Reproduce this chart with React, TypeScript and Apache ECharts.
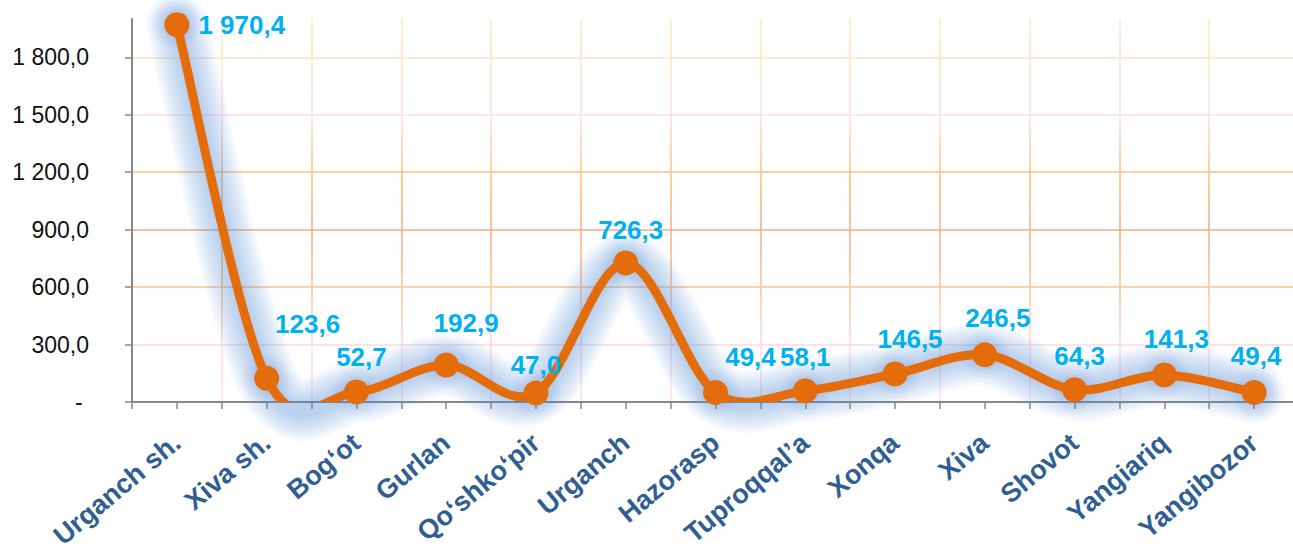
import React, { useEffect, useRef } from "react";
import * as echarts from "echarts";

const categories = [
  "Urganch sh.",
  "Xiva sh.",
  "Bog‘ot",
  "Gurlan",
  "Qo‘shko‘pir",
  "Urganch",
  "Hazorasp",
  "Tuproqqal’a",
  "Xonqa",
  "Xiva",
  "Shovot",
  "Yangiariq",
  "Yangibozor",
];

const values = [1970.4, 123.6, 52.7, 192.9, 47.0, 726.3, 49.4, 58.1, 146.5, 246.5, 64.3, 141.3, 49.4];

const yMin = 0;
const yMax = 2000;
const yStep = 300;

// label placement tweaks (layout only)
const labelShift: number[][] = [
  [0, 0],
  [41, -24],
  [5, -4],
  [20, -12],
  [0, 3],
  [5, -2],
  [35, -5],
  [0, -3],
  [15, -4],
  [13, -6],
  [5, -3],
  [12, -5],
  [2, -6],
];

// soft glow: stacked strokes (widths, px)
const glowWidths = [62, 56, 50, 44, 38, 32, 26, 20, 14];
const glowRadii = [24, 20, 16];

function fmt(v: number): string {
  const s = v.toFixed(1);
  const [ip, dp] = s.split(".");
  const withSp = ip.replace(/\B(?=(\d{3})+(?!\d))/g, " ");
  return withSp + "," + dp;
}

let registered = false;
function registerCurve() {
  if (registered) return;
  registered = true;
  const Curve = (echarts.graphic as any).extendShape({
    type: "smoothCurve",
    shape: { points: [] as number[][] },
    buildPath(ctx: any, shape: any) {
      const p: number[][] = shape.points;
      if (!p || !p.length) return;
      ctx.moveTo(p[0][0], p[0][1]);
      for (let i = 0; i < p.length - 1; i++) {
        const p0 = p[i - 1] || p[i];
        const p1 = p[i];
        const p2 = p[i + 1];
        const p3 = p[i + 2] || p2;
        ctx.bezierCurveTo(
          p1[0] + (p2[0] - p0[0]) / 6,
          p1[1] + (p2[1] - p0[1]) / 6,
          p2[0] - (p3[0] - p1[0]) / 6,
          p2[1] - (p3[1] - p1[1]) / 6,
          p2[0],
          p2[1]
        );
      }
    },
  });
  echarts.graphic.registerShape("smoothCurve", Curve);
}

export default function App() {
  const ref = useRef<HTMLDivElement>(null);
  useEffect(() => {
    if (!ref.current) return;
    registerCurve();
    const chart = echarts.init(ref.current, undefined, { renderer: "svg" });
    const gridTop = 19;
    const gridBottomY = 402;
    const gridGrad = new echarts.graphic.LinearGradient(
      0,
      gridTop,
      0,
      gridBottomY,
      [
        { offset: 0, color: "#fde9c6" },
        { offset: 0.1, color: "#fce4c0" },
        { offset: 0.25, color: "#fddfe6" },
        { offset: 0.4, color: "#fbc07c" },
        { offset: 0.55, color: "#f6aa82" },
        { offset: 0.7, color: "#fbc38a" },
        { offset: 0.85, color: "#fcd9e0" },
        { offset: 1, color: "#fde3e9" },
      ],
      true
    );
    const tickGrad = new echarts.graphic.LinearGradient(
      0,
      0,
      0,
      552,
      [
        { offset: 0, color: "rgba(135,135,135,0)" },
        { offset: 0.05, color: "rgba(135,135,135,0)" },
        { offset: 0.0501, color: "#878787" },
        { offset: 1, color: "#878787" },
      ],
      true
    );
    const glowRGB = "95,145,215";
    const option: any = {
      animation: false,
      backgroundColor: "#ffffff",
      grid: {
        left: 132,
        top: gridTop,
        width: 1167,
        height: gridBottomY - gridTop,
        containLabel: false,
        outerBoundsMode: "none",
      },
      xAxis: [
        {
          type: "category",
          data: categories,
          position: "bottom",
          boundaryGap: true,
          axisLine: { show: true, lineStyle: { color: "#878787", width: 2 } },
          axisTick: { show: false },
          splitLine: { show: true, interval: 0, lineStyle: { color: gridGrad, width: 1.5 } },
          axisLabel: {
            interval: 0,
            rotate: 40,
            margin: 37,
            color: "#2f5e93",
            fontSize: 27,
            fontWeight: "bold",
            fontFamily: "Liberation Sans, Arial, sans-serif",
          },
        },
        {
          type: "value",
          position: "bottom",
          min: 0,
          max: 13,
          interval: 0.5,
          axisLine: { show: false },
          axisTick: { show: true, length: 7, lineStyle: { color: "#878787", width: 1.5 } },
          axisLabel: { show: false },
          splitLine: { show: false },
        },
      ],
      yAxis: {
        type: "value",
        min: yMin,
        max: yMax,
        interval: yStep,
        axisLine: { show: true, lineStyle: { color: "#878787", width: 2 } },
        axisTick: { show: true, length: 7, lineStyle: { color: tickGrad, width: 1.5 } },
        splitLine: { show: true, showMaxLine: false, lineStyle: { color: gridGrad, width: 1.5 } },
        axisLabel: {
          margin: 43,
          showMaxLabel: false,
          color: "#111111",
          fontSize: 23,
          fontFamily: "Liberation Sans, Arial, sans-serif",
          formatter: (v: number) => (v === 0 ? "- " : v >= yMax ? "" : fmt(v)),
        },
      },
      series: [
        {
          type: "custom",
          coordinateSystem: "cartesian2d",
          xAxisIndex: 0,
          yAxisIndex: 0,
          clip: false,
          silent: true,
          z: 1,
          data: [[0, 0]],
          renderItem: (_params: any, api: any) => {
            const pts = values.map((v, i) => api.coord([i, v]));
            const children: any[] = [];
            glowWidths.forEach((w) => {
              children.push({
                type: "smoothCurve",
                shape: { points: pts },
                style: {
                  fill: "none",
                  stroke: `rgba(${glowRGB},0.055)`,
                  lineWidth: w,
                  lineCap: "round",
                  lineJoin: "round",
                },
              });
            });
            glowRadii.forEach((r) => {
              pts.forEach((p: number[]) => {
                children.push({
                  type: "circle",
                  shape: { cx: p[0], cy: p[1], r },
                  style: { fill: `rgba(${glowRGB},0.05)` },
                });
              });
            });
            return { type: "group", children };
          },
        },
        {
          type: "custom",
          coordinateSystem: "cartesian2d",
          xAxisIndex: 0,
          yAxisIndex: 0,
          clip: true,
          silent: true,
          z: 2,
          data: [[0, 0]],
          renderItem: (_params: any, api: any) => {
            const pts = values.map((v, i) => api.coord([i, v]));
            return {
              type: "smoothCurve",
              shape: { points: pts },
              style: { fill: "none", stroke: "#e46c0a", lineWidth: 9, lineJoin: "round", lineCap: "round" },
            };
          },
        },
        {
          type: "line",
          xAxisIndex: 0,
          z: 3,
          clip: false,
          symbol: "circle",
          symbolSize: 25,
          lineStyle: { width: 0, opacity: 0 },
          itemStyle: { color: "#e46c0a" },
          label: {
            show: true,
            position: "top",
            distance: 5,
            color: "#00b0f0",
            fontSize: 26,
            fontWeight: "bold",
            fontFamily: "Liberation Sans, Arial, sans-serif",
            formatter: (p: any) => fmt(p.value),
          },
          data: values.map((v, i) =>
            i === 0
              ? { value: v, label: { position: "right", distance: 9, offset: [0, 0] } }
              : { value: v, label: { offset: labelShift[i] } }
          ),
        },
      ],
    };
    chart.setOption(option);
    return () => chart.dispose();
  }, []);
  return (
    <div
      ref={ref}
      style={{
        position: "fixed",
        left: 0,
        top: 0,
        width: 1293,
        height: 552,
        overflow: "hidden",
        background: "#fff",
      }}
    />
  );
}
